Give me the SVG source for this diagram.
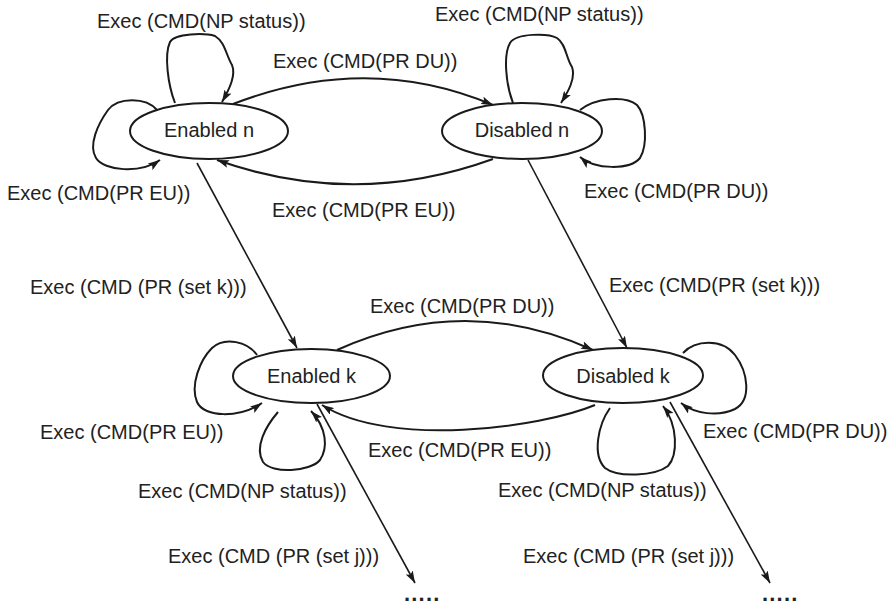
<svg xmlns="http://www.w3.org/2000/svg" width="891" height="605" viewBox="0 0 891 605">
  <style>
    .node ellipse { fill: #ffffff; stroke: #1a1a1a; stroke-width: 2; }
    .node text { font-family: "Liberation Sans", Arial, sans-serif; font-size: 20px; fill: #222; text-anchor: middle; }
    .edge { fill: none; stroke: #1a1a1a; stroke-width: 2; marker-end: url(#arrow); }
    .edge.straight { stroke-width: 1.6; }
    .label { font-family: "Liberation Sans", Arial, sans-serif; font-size: 20px; fill: #222; }
    .more { font-family: "Liberation Sans", Arial, sans-serif; font-size: 22px; font-weight: bold; letter-spacing: 1.2px; fill: #222; }
  </style>
  <defs>
    <marker id="arrow" viewBox="0 0 12 8" refX="12" refY="4" markerWidth="12" markerHeight="8" markerUnits="userSpaceOnUse" orient="auto">
      <path d="M0,0 L12,4 L0,8 L2.5,4 z" fill="#1a1a1a"/>
    </marker>
  </defs>

  <!-- transitions -->
  <g id="connectors">
    <!-- n-level: enable/disable arcs -->
    <path class="edge" d="M233,104 Q367,52 493,105"/>
    <path class="edge" d="M493,159 Q355,209 217,160"/>
    <!-- n-level self loops -->
    <path class="edge" d="M175,103 C168,85 164,55 170,42 C175,33 205,33 215,36 C225,42 226,55 232,65 C236,75 230,88 222,102"/>
    <path class="edge" d="M157,110 C146,97 118,97 108,110 C98,124 88,145 96,158 C104,171 140,174 160,160"/>
    <path class="edge" d="M513,103 C506,85 503,55 510,43 C516,33 548,33 557,38 C566,44 566,58 572,67 C576,78 568,92 561,103"/>
    <path class="edge" d="M580,110 C595,98 625,95 637,105 C646,115 648,145 640,158 C630,170 595,170 580,157"/>
    <!-- n to k -->
    <path class="edge straight" d="M197,163 L297,348"/>
    <path class="edge straight" d="M528,160 L627,348"/>
    <!-- k-level: enable/disable arcs -->
    <path class="edge" d="M337,350 Q465,292 593,350"/>
    <path class="edge" d="M595,405 C540,428 390,448 322,405"/>
    <!-- k-level self loops -->
    <path class="edge" d="M257,355 C248,342 225,336 212,348 C200,360 190,385 197,402 C204,418 240,418 262,403"/>
    <path class="edge" d="M278,412 C266,426 254,447 263,462 C272,474 310,472 320,460 C328,448 327,428 311,411"/>
    <path class="edge" d="M683,353 C695,340 722,338 735,355 C748,372 752,400 735,409 C718,417 695,414 681,403"/>
    <path class="edge" d="M610,408 C598,425 592,455 605,468 C618,478 655,476 668,466 C678,455 678,425 663,406"/>
    <!-- k to j -->
    <path class="edge straight" d="M317,404 L415,583"/>
    <path class="edge straight" d="M670,402 L770,583"/>

    <!-- transition labels -->
    <text class="label" x="97" y="28">Exec (CMD(NP status))</text>
    <text class="label" x="435" y="21">Exec (CMD(NP status))</text>
    <text class="label" x="273" y="68">Exec (CMD(PR DU))</text>
    <text class="label" x="7" y="200">Exec (CMD(PR EU))</text>
    <text class="label" x="584" y="198">Exec (CMD(PR DU))</text>
    <text class="label" x="272" y="217">Exec (CMD(PR EU))</text>
    <text class="label" x="30" y="294">Exec (CMD (PR (set k)))</text>
    <text class="label" x="609" y="292">Exec (CMD(PR (set k)))</text>
    <text class="label" x="370" y="313">Exec (CMD(PR DU))</text>
    <text class="label" x="40" y="439">Exec (CMD(PR EU))</text>
    <text class="label" x="368" y="457">Exec (CMD(PR EU))</text>
    <text class="label" x="703" y="438">Exec (CMD(PR DU))</text>
    <text class="label" x="138" y="498">Exec (CMD(NP status))</text>
    <text class="label" x="498" y="497">Exec (CMD(NP status))</text>
    <text class="label" x="168" y="563">Exec (CMD (PR (set j)))</text>
    <text class="label" x="523" y="563">Exec (CMD (PR (set j)))</text>
    <text class="more" x="404" y="601">.....</text>
    <text class="more" x="762" y="601">.....</text>
  </g>

  <!-- states -->
  <g id="node-enabled-n" class="node">
    <ellipse cx="209" cy="131" rx="79" ry="28"/>
    <text x="209" y="137">Enabled n</text>
  </g>
  <g id="node-disabled-n" class="node">
    <ellipse cx="522" cy="131" rx="80" ry="28"/>
    <text x="522" y="137">Disabled n</text>
  </g>
  <g id="node-enabled-k" class="node">
    <ellipse cx="311.5" cy="376" rx="78.5" ry="27"/>
    <text x="311.5" y="383">Enabled k</text>
  </g>
  <g id="node-disabled-k" class="node">
    <ellipse cx="623" cy="375.5" rx="80" ry="27.5"/>
    <text x="623" y="383">Disabled k</text>
  </g>
</svg>
